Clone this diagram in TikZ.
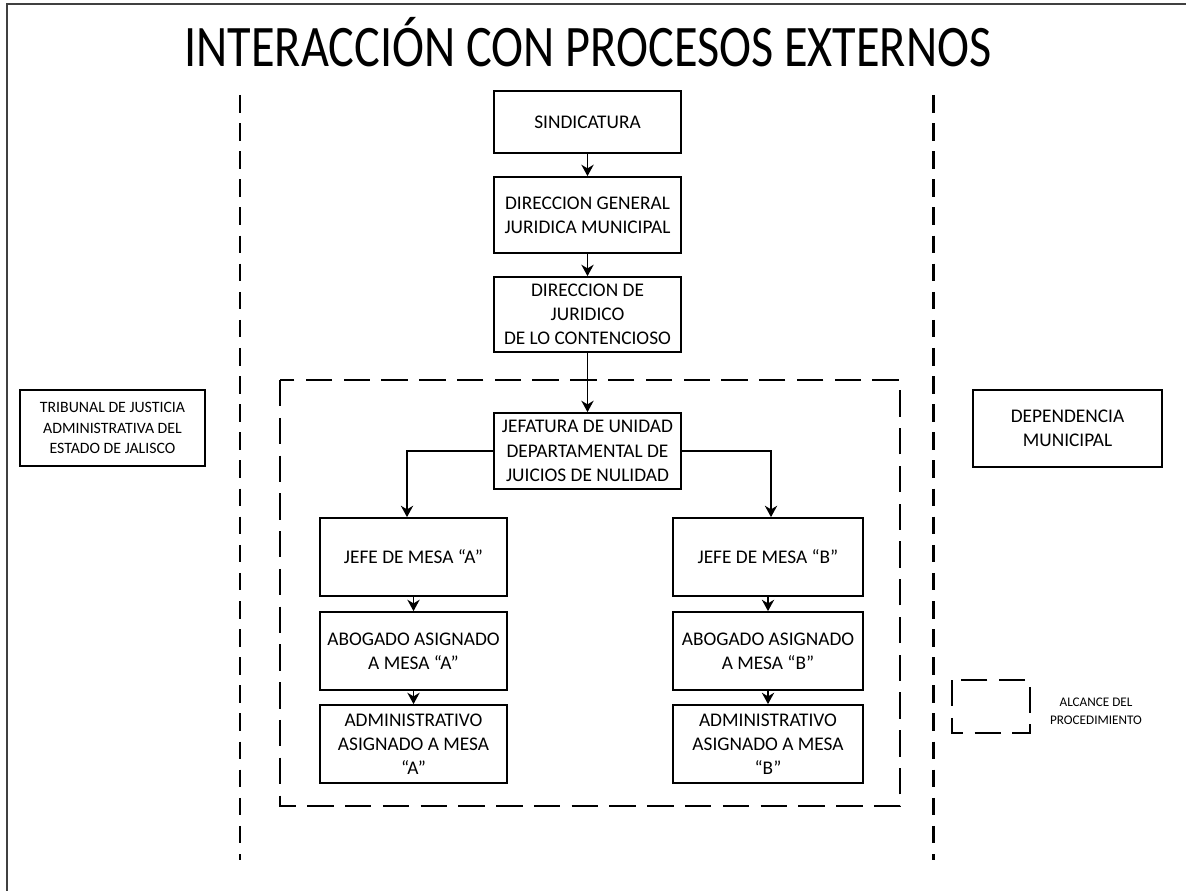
\documentclass[tikz,border=0pt]{standalone}
\usepackage{fontspec}
\setmainfont{Carlito}
\newfontfamily\titulofont[FakeStretch=0.82]{Carlito}
\usetikzlibrary{arrows.meta}

\begin{document}
\begin{tikzpicture}[x=0.02cm, y=-0.02cm, >={Stealth[length=6.5pt,width=7pt]}, line width=0.9pt,
    caja/.style={draw, line width=1pt, align=center, inner sep=1pt,
        font=\fontsize{11}{13.8}\selectfont, minimum width=3.74cm},
    alcance/.style={line width=1.1pt, dash pattern=on 15pt off 6.5pt},
    limite/.style={line width=1.7pt, dash pattern=on 10pt off 6pt}]
    \useasboundingbox (0,0) rectangle (1186,891);

    % marco de la hoja
    \draw[line width=1.2pt, black!75] (7,891) -- (7,4) -- (1186,4);

    % titulo
    \node (titulo) at (588,42) {\titulofont\fontsize{33.5}{38}\selectfont INTERACCIÓN CON PROCESOS EXTERNOS};

    % limites del proceso
    \coordinate (limIzqA) at (240,95);
    \coordinate (limIzqB) at (240,860);
    \coordinate (limDerA) at (933,95);
    \coordinate (limDerB) at (933,860);
    \draw[limite] (limIzqA) -- (limIzqB);
    \draw[limite] (limDerA) -- (limDerB);

    % alcance del procedimiento
    \draw[alcance] (280,380) rectangle (900,806);

    % columna central
    \node[caja, minimum height=1.24cm] (sind) at (587.5,122) {SINDICATURA};
    \node[caja, minimum height=1.52cm] (dgjm) at (587.5,215) {DIRECCION GENERAL\\JURIDICA MUNICIPAL};
    \node[caja, minimum height=1.5cm] (djc) at (587.5,314.5) {DIRECCION DE\\JURIDICO\\DE LO CONTENCIOSO};
    \node[caja, minimum height=1.52cm] (jud) at (587.5,451) {JEFATURA DE UNIDAD\\DEPARTAMENTAL DE\\JUICIOS DE NULIDAD};

    % mesa A
    \node[caja, minimum height=1.56cm] (jefeA) at (413.5,557) {JEFE DE MESA “A”};
    \node[caja, minimum height=1.56cm] (abogA) at (413.5,651) {ABOGADO ASIGNADO\\A MESA “A”};
    \node[caja, minimum height=1.56cm] (admA) at (413.5,744) {ADMINISTRATIVO\\ASIGNADO A MESA\\“A”};

    % mesa B
    \node[caja, minimum width=3.8cm, minimum height=1.56cm] (jefeB) at (768,557) {JEFE DE MESA “B”};
    \node[caja, minimum width=3.8cm, minimum height=1.56cm] (abogB) at (768,651) {ABOGADO ASIGNADO\\A MESA “B”};
    \node[caja, minimum width=3.8cm, minimum height=1.56cm] (admB) at (768,744) {ADMINISTRATIVO\\ASIGNADO A MESA\\“B”};

    % procesos externos
    \node[caja, minimum width=3.7cm, minimum height=1.52cm, font=\fontsize{9}{11.5}\selectfont] (tribunal) at (112.5,428) {TRIBUNAL DE JUSTICIA\\ADMINISTRATIVA DEL\\ESTADO DE JALISCO};
    \node[caja, minimum width=3.78cm, minimum height=1.54cm] (depen) at (1067.5,428.5) {DEPENDENCIA\\MUNICIPAL};

    % simbologia
    \draw[alcance] (952,680) rectangle (1030,733);
    \node[align=center, font=\fontsize{7.5}{10}\selectfont] (simb) at (1096,711) {ALCANCE DEL\\PROCEDIMIENTO};

    % flechas
    \draw[->] (sind) -- (dgjm);
    \draw[->] (dgjm) -- (djc);
    \draw[->] (djc) -- (jud);
    \draw[->] (jud.west) -| ([xshift=-0.13cm]jefeA.north);
    \draw[->] (jud.east) -| ([xshift=0.06cm]jefeB.north);
    \draw[->] (jefeA) -- (abogA);
    \draw[->] (abogA) -- (admA);
    \draw[->] (jefeB) -- (abogB);
    \draw[->] (abogB) -- (admB);
\end{tikzpicture}
\end{document}
